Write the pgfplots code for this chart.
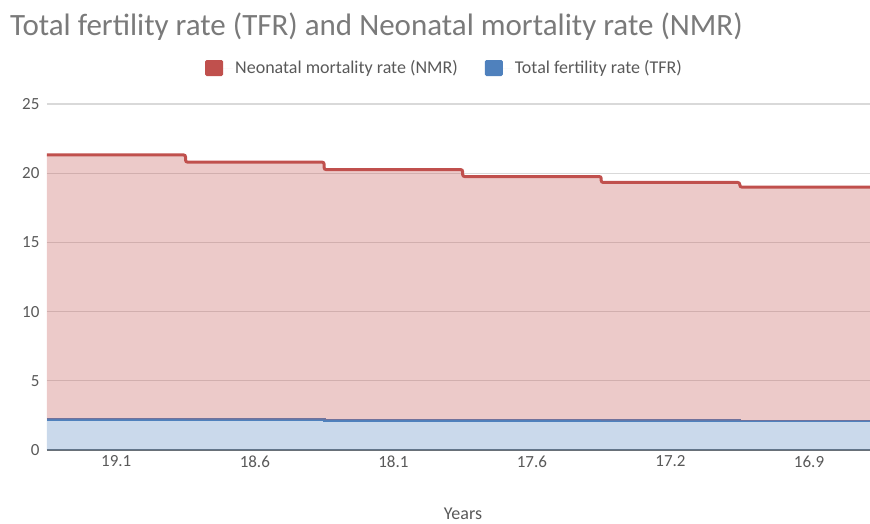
\documentclass[border=0pt]{standalone}
\usepackage{fontspec}
\setmainfont{Carlito}
\usepackage{pgfplots}
\usepackage{pgfplotstable}
\pgfplotsset{compat=1.18}
\definecolor{nmr}{HTML}{C0504D}
\definecolor{tfr}{HTML}{4F81BD}
\definecolor{txt}{HTML}{595959}
\definecolor{ttl}{HTML}{7A7A7A}
\definecolor{grd}{HTML}{D9D9D9}
\definecolor{axl}{HTML}{6B7075}

\pgfplotstableread{
x tfr nmr
0 2.22 19.1
1 2.20 18.6
2 2.16 18.1
3 2.16 17.6
4 2.13 17.2
5 2.10 16.9
6 2.10 16.9
}\datatable

\begin{document}
\begin{tikzpicture}[x=1pt,y=1pt]
\begin{axis}[
  scale only axis, width=823pt, height=346pt,
  xmin=0, xmax=5.94, ymin=0, ymax=25,
  ytick={0,5,10,15,20,25},
  xtick={0.5,1.5,2.5,3.5,4.5,5.5},
  xticklabels={19.1,18.6,18.1,17.6,17.2,16.9},
  major tick length=0pt,
  ymajorgrids, grid style={grd, line width=1.3pt},
  axis x line=bottom, axis y line=left,
  x axis line style={draw=axl, line width=2pt, -},
  y axis line style={draw=none},
  tick label style={font=\fontsize{17}{20}\selectfont, text=txt},
  yticklabel style={xshift=-4pt},
  xticklabel style={yshift=-2pt},
  /pgf/number format/assume math mode=true,
  stack plots=y,
  reverse legend,
  legend columns=2,
  legend style={at={(0.483,1.104)}, anchor=center, draw=none, fill=none,
    font=\fontsize{18}{21}\selectfont, text=txt,
    /tikz/every even column/.append style={column sep=25pt}},
  legend cell align=left,
]
\coordinate (BL) at (rel axis cs:0,0);
\addplot[const plot, draw=none, fill=tfr, fill opacity=0.3,
  legend image code/.code={\path (0pt,0pt) -- (28pt,0pt);\fill[tfr, fill opacity=1, rounded corners=1.5pt] (0pt,-8pt) rectangle (18pt,8pt);}]
  table[x=x, y=tfr] {\datatable} \closedcycle;
\addlegendentry{Total fertility rate (TFR)}
\addplot[const plot, draw=none, fill=nmr, fill opacity=0.3,
  legend image code/.code={\path (0pt,0pt) -- (28pt,0pt);\fill[nmr, fill opacity=1, rounded corners=1.5pt] (0pt,-8pt) rectangle (18pt,8pt);}]
  table[x=x, y=nmr] {\datatable} \closedcycle;
\addlegendentry{Neonatal mortality rate (NMR)}
\addplot[stack plots=false, const plot, tfr, line width=2.8pt, forget plot]
  table[x=x, y=tfr] {\datatable};
\addplot[stack plots=false, const plot, nmr, line width=3pt, rounded corners=2pt, forget plot]
  table[x=x, y expr=\thisrow{tfr}+\thisrow{nmr}] {\datatable};
\end{axis}
\pgfresetboundingbox
\useasboundingbox ([shift={(-47pt,-73pt)}]BL) rectangle ([shift={(823pt,450pt)}]BL);
\node[anchor=base west, font=\fontsize{31}{35}\selectfont, text=ttl, inner sep=0pt] at ([shift={(-37pt,414pt)}]BL) {Total fertility rate (TFR) and Neonatal mortality rate (NMR)};
\node[anchor=base, font=\fontsize{18}{21}\selectfont, text=txt, inner sep=0pt] at ([shift={(416pt,-69pt)}]BL) {Years};
\end{tikzpicture}
\end{document}
